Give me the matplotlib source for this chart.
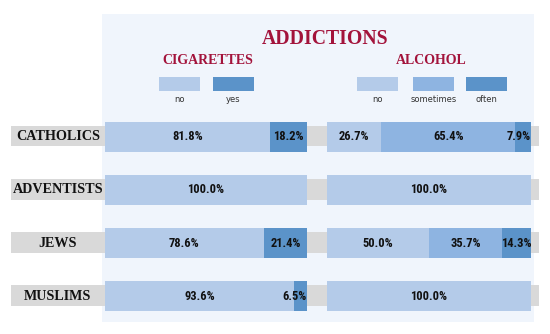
import matplotlib
matplotlib.use("Agg")
import matplotlib.pyplot as plt
from matplotlib.patches import Rectangle
import numpy as np

# ---- data ----
groups = ["CATHOLICS", "ADVENTISTS", "JEWS", "MUSLIMS"]
cig_labels = ["no", "yes"]
cig_no = [81.8, 100.0, 78.6, 93.6]
cig_yes = [18.2, 0.0, 21.4, 6.5]
alc_labels = ["no", "sometimes", "often"]
alc_no = [26.7, 100.0, 50.0, 100.0]
alc_sometimes = [65.4, 0.0, 35.7, 0.0]
alc_often = [7.9, 0.0, 14.3, 0.0]

# ---- style ----
C_NO = "#B4CBE9"
C_SOME = "#8EB4E1"
C_YES = "#5B93C9"
PANEL = "#F0F5FC"
GRAY = "#D9D9D9"
RED = "#A3133B"
SERIF = ["Liberation Serif", "DejaVu Serif"]
NARROW = ["Liberation Sans Narrow", "Roboto Condensed", "Liberation Sans", "DejaVu Sans"]

W, H = 550, 334
fig = plt.figure(figsize=(W / 100, H / 100), dpi=100)
fig.patch.set_facecolor("white")

def fx(px):
    return px / W

def fy(py):
    return 1 - py / H

# light panel
fig.add_artist(Rectangle((fx(102), fy(322)), 432 / W, 308 / H,
                         transform=fig.transFigure, facecolor=PANEL,
                         edgecolor="none", zorder=0))

ypos = np.arange(len(groups))
top_px, bot_px = 110, 323

# gray strips (background axes)
axg = fig.add_axes([fx(11), fy(bot_px), 528 / W, (bot_px - top_px) / H])
axg.set_xlim(0, 1)
axg.set_ylim(len(groups) - 0.5, -0.5)
axg.barh(ypos - 0.01, [1] * len(groups), height=0.39, color=GRAY, zorder=1)
axg.axis("off")
axg.patch.set_visible(False)
for i, g in enumerate(groups):
    axg.text((58 - 11) / 528, i, g, ha="center", va="center",
             family=SERIF, fontweight="bold", fontsize=10.2, color="#111111")

def make_ax(x0, x1):
    ax = fig.add_axes([fx(x0), fy(bot_px), (x1 - x0) / W, (bot_px - top_px) / H])
    ax.set_xlim(0, 100)
    ax.set_ylim(len(groups) - 0.5, -0.5)
    ax.axis("off")
    ax.patch.set_visible(False)
    return ax

def draw_stack(ax, series, colors):
    left = np.zeros(len(groups))
    for vals, col in zip(series, colors):
        vals = np.array(vals)
        ax.barh(ypos, vals, left=left, height=0.563, color=col, zorder=2)
        for i, v in enumerate(vals):
            if v <= 0:
                continue
            if v < 10:
                x, ha = left[i] + v - 0.2, "right"
            else:
                x, ha = left[i] + v / 2, "center"
            ax.text(x, i, f"{v:.1f}%", ha=ha, va="center", family=NARROW,
                    fontweight="bold", fontsize=9, color="#111111", zorder=3)
        left = left + vals

ax1 = make_ax(105, 307)
draw_stack(ax1, [cig_no, cig_yes], [C_NO, C_YES])
ax2 = make_ax(327, 531)
draw_stack(ax2, [alc_no, alc_sometimes, alc_often], [C_NO, C_SOME, C_YES])

# titles
fig.text(fx(325), fy(38.5), "ADDICTIONS", ha="center", va="center",
         family=SERIF, fontweight="bold", fontsize=14.2, color=RED)
fig.text(fx(208), fy(61), "CIGARETTES", ha="center", va="center",
         family=SERIF, fontweight="bold", fontsize=10, color=RED)
fig.text(fx(431), fy(61), "ALCOHOL", ha="center", va="center",
         family=SERIF, fontweight="bold", fontsize=10, color=RED)

# legends
def legend(items, colors, starts, width=41):
    for lab, col, x0 in zip(items, colors, starts):
        fig.add_artist(Rectangle((fx(x0), fy(91)), width / W, 14 / H,
                                 transform=fig.transFigure, facecolor=col,
                                 edgecolor="none", zorder=2))
        fig.text(fx(x0 + width / 2), fy(99.5), lab, ha="center", va="center",
                 fontsize=6, color="#333333")

legend(cig_labels, [C_NO, C_YES], [159, 213])
legend(alc_labels, [C_NO, C_SOME, C_YES], [357, 413, 466])

fig.savefig("out.png", dpi=100)
